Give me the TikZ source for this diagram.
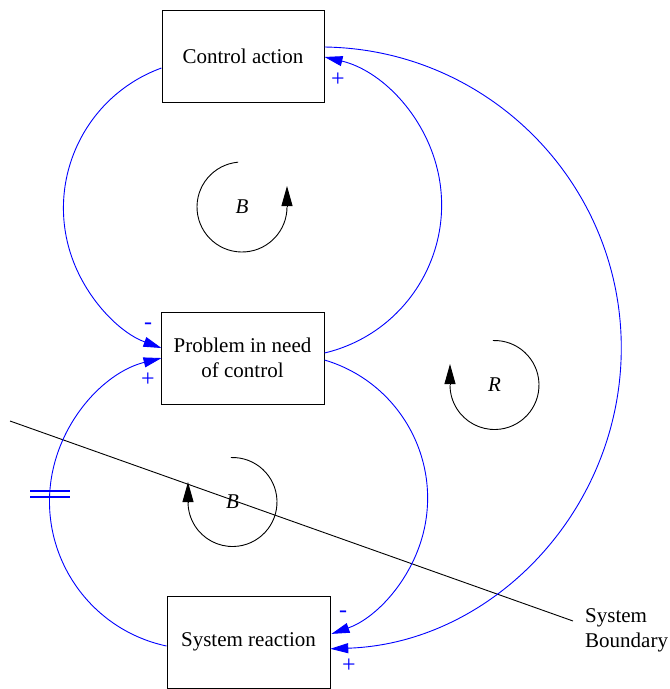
\documentclass[tikz,border=0pt]{standalone}
\usepackage{fontspec}
\setmainfont{Liberation Serif}
\usetikzlibrary{arrows.meta}
\definecolor{linkblue}{RGB}{0,0,255}
\tikzset{
  varbox/.style={draw=black, line width=1pt, fill=white, minimum width=163pt,
    minimum height=92pt, inner sep=0pt, align=center,
    font=\fontsize{21}{25}\selectfont},
  link/.style={draw=linkblue, line width=0.9pt,
    -{Triangle[length=18pt,width=10pt]}},
  polarity/.style={text=linkblue, inner sep=0pt, font=\fontsize{24}{28}\selectfont},
  loopline/.style={draw=black, line width=0.9pt},
  looptip/.style={draw=black, line width=0.9pt,
    -{Triangle[length=20pt,width=11pt]}},
  looplabel/.style={inner sep=0pt, font=\fontsize{21}{25}\selectfont\itshape},
  delaymark/.style={draw=linkblue, line width=1.2pt},
}
\begin{document}
\begin{tikzpicture}[x=1pt,y=1pt]
\useasboundingbox (0,0) rectangle (670,-689);

% system boundary (drawn first so the loop symbol sits over it)
\coordinate (sbA) at (10,-421);
\coordinate (sbB) at (573,-621);
\draw[line width=0.9pt] (sbA) -- (sbB);
\node[anchor=west, align=left, inner sep=0pt, font=\fontsize{21}{25}\selectfont]
  (sblabel) at (585,-630) {System\\Boundary};

% variables
\node[varbox, minimum width=162pt] (ca) at (243,-56) {Control action};
\node[varbox] (pr) at (242.5,-358) {Problem in need\\of control};
\node[varbox] (sr) at (248.5,-642) {System reaction};

% causal links (circular arcs)
\draw[link] ([yshift=-12pt]ca.west) arc[start angle=110, end angle=250, radius=149pt];
\draw[link] ([yshift=5pt]pr.east) arc[start angle=-76.7, end angle=76.7, radius=152.1pt];
\draw[link] ([yshift=9pt]ca.east) arc[start angle=89.2, end angle=-88.1, radius=301pt];
\draw[link] ([yshift=-2pt]pr.east) arc[start angle=73.5, end angle=-70.6, radius=144pt];
\draw[link] ([yshift=-4pt]sr.west) arc[start angle=257.97, end angle=104, radius=147.8pt];

% delay mark on the reaction link
\coordinate (dl1) at (30,-491);
\coordinate (dr1) at (70,-491);
\coordinate (dl2) at (30,-497);
\coordinate (dr2) at (70,-497);
\draw[delaymark] (dl1) -- (dr1);
\draw[delaymark] (dl2) -- (dr2);

% link polarities
\node[polarity] (p1) at (338,-80) {+};
\node[polarity] (p2) at (148,-326) {-};
\node[polarity] (p3) at (148,-380) {+};
\node[polarity] (p4) at (343,-614) {-};
\node[polarity] (p5) at (349,-666) {+};

% loop identifiers
\coordinate (lb1) at (242,-207);
\draw[loopline] (lb1) ++(95:45) arc[start angle=95, end angle=360, radius=45pt] coordinate (lb1e);
\draw[looptip] (lb1e) -- ++(0,21);
\node[looplabel] (B1) at (lb1) {B};

\coordinate (lr) at (494.5,-385);
\draw[loopline] (lr) ++(92:44.5) arc[start angle=92, end angle=-180, radius=44.5pt] coordinate (lre);
\draw[looptip] (lre) -- ++(0,21);
\node[looplabel] (R1) at (lr) {R};

\coordinate (lb2) at (232.5,-502);
\draw[loopline] (lb2) ++(92:44.5) arc[start angle=92, end angle=-180, radius=44.5pt] coordinate (lb2e);
\draw[looptip] (lb2e) -- ++(0,20);
\node[looplabel] (B2) at (lb2) {B};
\end{tikzpicture}
\end{document}
